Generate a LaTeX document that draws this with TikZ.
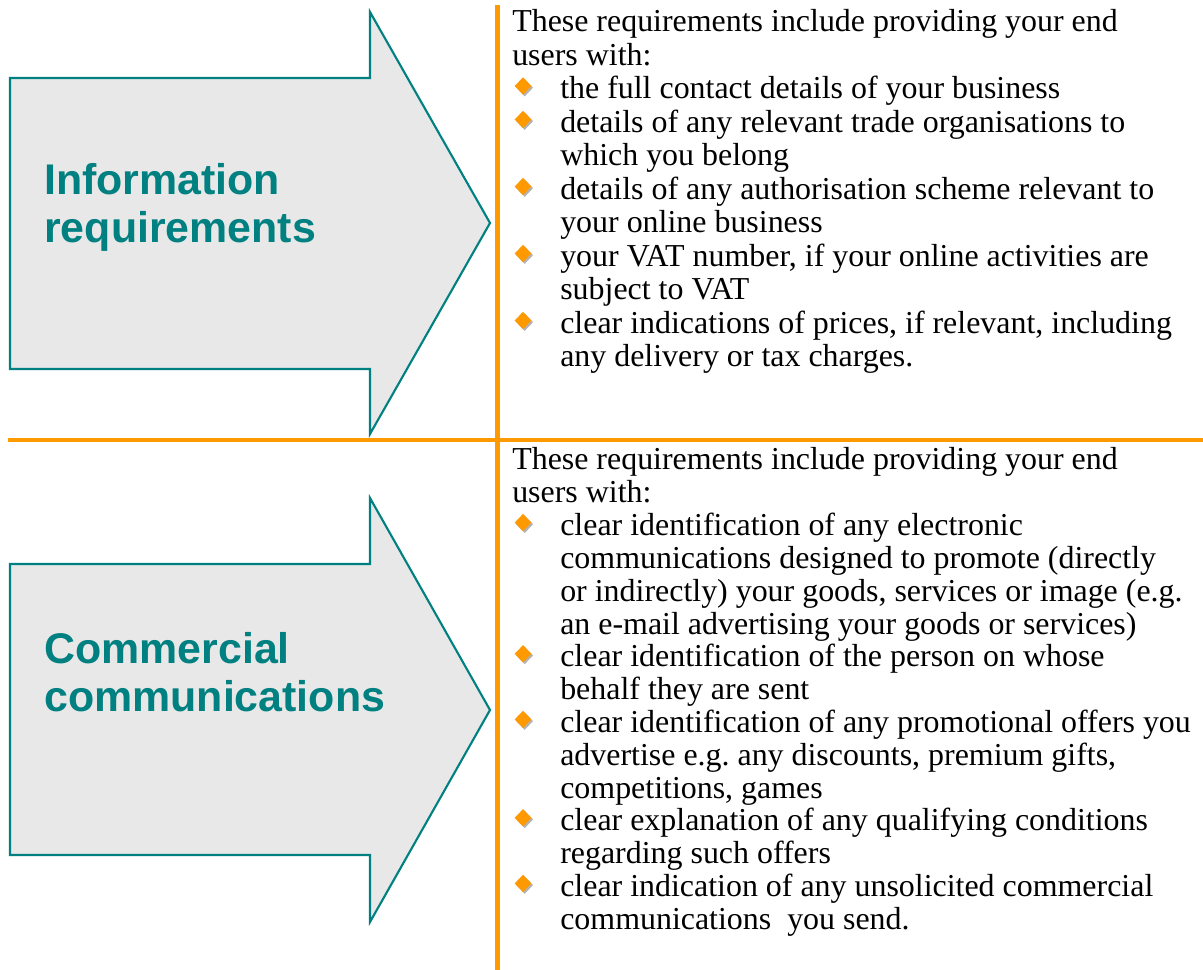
\documentclass[tikz,border=0pt]{standalone}
\usepackage{fontspec}
\setmainfont{Liberation Serif}
\setsansfont{Liberation Sans}
\usepackage{xcolor}
\usepackage{tikz}
\usetikzlibrary{shapes.geometric,shadows}

\definecolor{tealc}{RGB}{0,128,128}
\definecolor{orangec}{RGB}{255,153,0}
\definecolor{arrowgray}{RGB}{232,232,232}

\tikzset{
  txt/.style={anchor=base west, inner sep=0pt, font=\fontsize{22.7}{24}\selectfont},
  lbl/.style={anchor=base west, inner sep=0pt, text=tealc, font=\sffamily\bfseries\fontsize{30.5}{36}\selectfont},
  bul/.style={diamond, fill=orangec, inner sep=0pt, minimum width=12pt, minimum height=12.5pt,
    general shadow={fill=black!30, shadow xshift=1.2pt, shadow yshift=-1.2pt}},
  bigarrow/.style={fill=arrowgray, draw=tealc, line width=1.5pt, line join=miter}
}

\begin{document}
\begin{tikzpicture}[x=0.025cm, y=-0.025cm]

\useasboundingbox (0,0) rectangle (1203,970);

% the two arrows
\draw[bigarrow] (10,78)--(370,78)--(370,12)--(490,223)--(370,434)--(370,369)--(10,369)--cycle;
\draw[bigarrow] (10,564)--(370,564)--(370,498)--(490,710)--(370,922)--(370,855)--(10,855)--cycle;

% dividers
\draw[orangec, line width=2.2pt] (8,440)--(1203,440);
\draw[orangec, line width=3.5pt] (497.5,5)--(497.5,970);

\node[lbl] (info1) at (44,195) {Information};
\node[lbl] (info2) at (44,243) {requirements};

\node[lbl] (com1) at (44,663) {Commercial};
\node[lbl] (com2) at (44,711) {communications};

% information requirements
\node[txt] (i1) at (512,32) {These requirements include providing your end};
\node[txt] (i2) at (512,65.5) {users with:};
\node[txt] (i3) at (560,99) {the full contact details of your business};
\node[txt] (i4) at (560,132.5) {details of any relevant trade organisations to};
\node[txt] (i5) at (560,166) {which you belong};
\node[txt] (i6) at (560,199.5) {details of any authorisation scheme relevant to};
\node[txt] (i7) at (560,233) {your online business};
\node[txt] (i8) at (560,266.5) {your VAT number, if your online activities are};
\node[txt] (i9) at (560,300) {subject to VAT};
\node[txt] (i10) at (560,333.5) {clear indications of prices, if relevant, including};
\node[txt] (i11) at (560,367) {any delivery or tax charges.};

\node[bul] (ib1) at (523,86) {};
\node[bul] (ib2) at (523,119.5) {};
\node[bul] (ib3) at (523,186.5) {};
\node[bul] (ib4) at (523,253.5) {};
\node[bul] (ib5) at (523,320.5) {};

% commercial communications
\node[txt] (c1) at (512,470) {These requirements include providing your end};
\node[txt] (c2) at (512,502.8) {users with:};
\node[txt] (c3) at (560,535.6) {clear identification of any electronic};
\node[txt] (c4) at (560,568.4) {communications designed to promote (directly};
\node[txt] (c5) at (560,601.2) {or indirectly) your goods, services or image (e.g.};
\node[txt] (c6) at (560,634) {an e-mail advertising your goods or services)};
\node[txt] (c7) at (560,666.8) {clear identification of the person on whose};
\node[txt] (c8) at (560,699.6) {behalf they are sent};
\node[txt] (c9) at (560,732.4) {clear identification of any promotional offers you};
\node[txt] (c10) at (560,765.2) {advertise e.g.\ any discounts, premium gifts,};
\node[txt] (c11) at (560,798) {competitions, games};
\node[txt] (c12) at (560,830.8) {clear explanation of any qualifying conditions};
\node[txt] (c13) at (560,863.6) {regarding such offers};
\node[txt] (c14) at (560,896.4) {clear indication of any unsolicited commercial};
\node[txt] (c15) at (560,929.2) {communications\ \ you send.};

\node[bul] (cb1) at (523,522.6) {};
\node[bul] (cb2) at (523,653.8) {};
\node[bul] (cb3) at (523,719.4) {};
\node[bul] (cb4) at (523,817.8) {};
\node[bul] (cb5) at (523,883.4) {};

\end{tikzpicture}
\end{document}
